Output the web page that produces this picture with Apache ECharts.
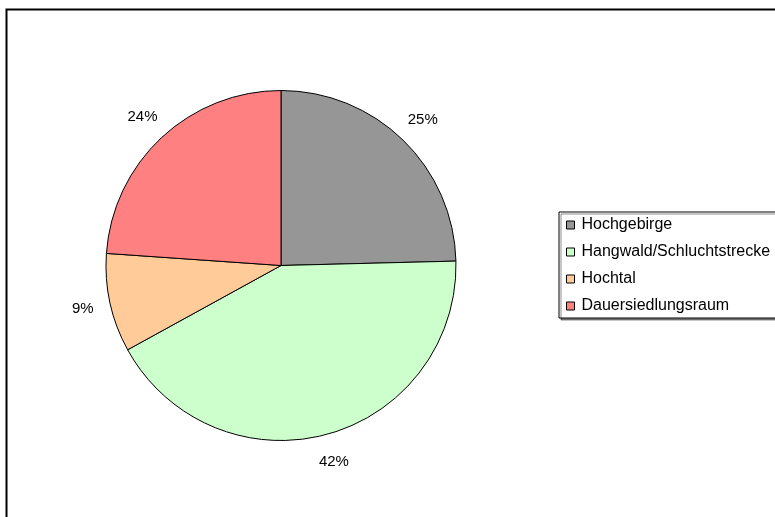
<!DOCTYPE html>
<html>
<head>
<meta charset="utf-8">
<script src="https://cdn.jsdelivr.net/npm/echarts@6/dist/echarts.min.js"></script>
<style>
  html, body { margin: 0; padding: 0; background: #fff; }
  #chart { width: 775px; height: 517px; }
</style>
</head>
<body>
<div id="chart"></div>
<script>
// Landscape zones, share of area in percent (clockwise from 12 o'clock)
const categories = ['Hochgebirge', 'Hangwald/Schluchtstrecke', 'Hochtal', 'Dauersiedlungsraum'];
const shares = [24.6, 42.4, 9.1, 23.9];
const colors = ['#969696', '#CCFFCC', '#FFCC99', '#FF8080'];

const pieData = categories.map((name, i) => ({
  name: name,
  value: shares[i],
  itemStyle: { color: colors[i] }
}));

const FONT = '"Liberation Sans", Arial, sans-serif';
const chart = echarts.init(document.getElementById('chart'), null, { renderer: 'canvas' });

chart.setOption({
  backgroundColor: '#ffffff',
  animation: false,
  graphic: [{
    type: 'rect',
    silent: true,
    shape: { x: 6.5, y: 9.5, width: 900, height: 700 },
    style: { fill: 'none', stroke: '#000', lineWidth: 2 }
  }],
  legend: {
    orient: 'vertical',
    left: 559,
    top: 212,
    data: categories,
    selectedMode: false,
    icon: 'rect',
    itemWidth: 8,
    itemHeight: 8,
    itemGap: 9,
    padding: [4, 10, 3, 7],
    borderColor: '#000',
    borderWidth: 1,
    backgroundColor: '#fff',
    shadowColor: 'rgba(0,0,0,0.45)',
    shadowOffsetX: 2,
    shadowOffsetY: 2,
    shadowBlur: 0,
    itemStyle: { borderColor: '#000', borderWidth: 1 },
    textStyle: {
      fontFamily: FONT,
      fontSize: 16,
      lineHeight: 18,
      color: '#000',
      padding: [0, 0, 0, 2]
    }
  },
  series: [
    {
      // the pie itself
      type: 'pie',
      center: [281, 265.5],
      radius: 175,
      startAngle: 90,
      clockwise: true,
      silent: true,
      emphasis: { disabled: true },
      label: { show: false },
      labelLine: { show: false },
      itemStyle: { borderColor: '#000', borderWidth: 1 },
      data: pieData
    },
    {
      // invisible ring carrying the percentage labels just outside the pie
      type: 'pie',
      center: [281, 265.5],
      radius: [185, 215],
      startAngle: 90,
      clockwise: true,
      silent: true,
      emphasis: { disabled: true },
      itemStyle: { color: 'rgba(0,0,0,0)', borderWidth: 0 },
      labelLine: { show: false },
      label: {
        show: true,
        position: 'inside',
        fontFamily: FONT,
        fontSize: 15,
        color: '#000',
        formatter: p => Math.round(p.percent) + '%'
      },
      data: categories.map((name, i) => ({ name: name, value: shares[i] }))
    }
  ]
});
</script>
</body>
</html>
